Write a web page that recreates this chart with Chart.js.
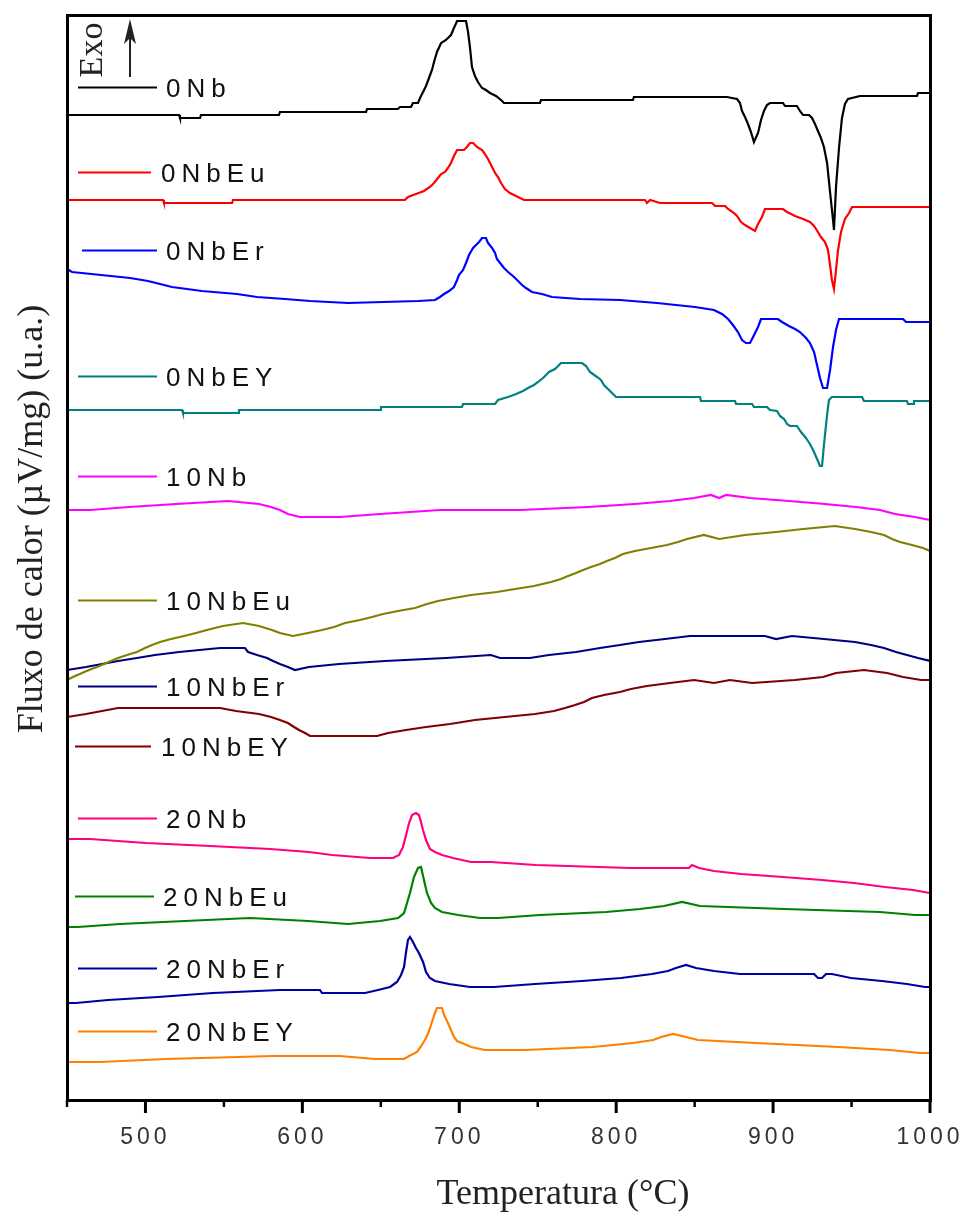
<!DOCTYPE html>
<html>
<head>
<meta charset="utf-8">
<script src="https://cdn.jsdelivr.net/npm/chart.js@4"></script>
<style>
    html, body { margin: 0; background: #fff; }
    canvas { display: block; }
</style>
</head>
<body>
<canvas id="graficoDTA" width="964" height="1213"></canvas>
<script>
// ==========================================
// DADOS: [temperatura (°C), fluxo de calor (u.a., com deslocamento)]
// ==========================================
const amostras = ['0Nb', '0NbEu', '0NbEr', '0NbEY', '10Nb', '10NbEu', '10NbEr', '10NbEY', '20Nb', '20NbEu', '20NbEr', '20NbEY'];

const s0Nb = [[450,985],[521.4,985],[522,982],[534.8,982],[535.4,985],[585.1,985],[585.7,988],[640.6,988],[641.2,991],[660.9,991],[662.2,993],[669.2,993],[670.5,997],[673.7,997],[675,1002],[676.9,1008],[678.8,1014],[680.7,1022],[682.6,1030],[683.9,1038],[685.8,1048],[688.4,1057],[691.5,1060],[694.7,1065],[696.6,1072],[698.6,1079],[704.3,1079],[705.6,1068],[706.8,1053],[708.1,1033],[710,1024],[711.9,1018],[714.5,1012],[717,1010],[719.6,1007],[723.4,1004],[726.6,1000],[728.5,997],[751.4,997],[752.1,1000],[810.7,1000],[811.3,1003],[870.6,1003],[877,1001],[878.9,997],[880.2,989],[882.1,983],[884,976],[885.9,968],[887.8,958],[890.4,967],[892.3,980],[894.2,989],[896.1,995],[898,997],[906.3,997],[907.6,994],[915.2,994],[917.1,989],[919.1,985],[922.9,985],[924.8,982],[926.7,976],[928.6,969],[930.5,962],[932.4,953],[934.4,937],[936.3,908],[938.2,880],[938.8,870],[940.1,913],[942,952],[943.9,982],[945.8,996],[947.7,1001],[955.4,1004],[991.7,1004],[992.4,1007],[1000,1007]];

const s0NbEu = [[450,900],[511.2,900],[511.8,897],[555.2,897],[555.8,900],[665.4,900],[667.3,903],[672.4,906],[677.5,909],[681.3,913],[683.9,917],[686.4,922],[688.4,926],[690.9,928],[692.8,932],[694.7,937],[696.6,944],[698.6,950],[703,950],[704.9,953],[706.8,957],[708.8,957],[711.3,953],[714.5,950],[716.4,946],[718.3,941],[720.9,933],[722.8,927],[724.7,923],[726.6,917],[729.1,911],[732.3,907],[737.4,903],[741.3,900],[818.4,900],[819.6,897],[821.6,900],[828,897],[861.1,897],[863,894],[869.4,894],[871.3,891],[875.1,887],[877,884],[879.6,878],[882.1,875],[885.3,872],[888.5,869],[890.4,876],[892.9,883],[894.8,891],[906.3,891],[908.9,888],[914,884],[919.1,881],[923.5,878],[926.1,874],[928.6,868],[930.5,863],[933.1,858],[935,850],[936.3,835],[937.5,820],[938.8,811],[940.1,830],[941.4,850],[943.3,868],[945.8,881],[948.4,887],[950.3,893],[1000,893]];

const s0NbEr = [[450,831],[453.2,828],[471.7,825],[490.2,822],[501.6,819],[509.3,816],[516.9,813],[536,809],[558.3,806],[571.1,803],[588.9,801],[604.9,799],[629.1,797],[673.7,799],[684.5,800],[687.7,803],[690.3,806],[693.5,809],[696.6,813],[698.6,820],[699.8,825],[702.4,830],[704.3,837],[706.2,845],[708.8,852],[710.7,855],[712.6,858],[714.5,862],[717,862],[718.3,857],[720.9,852],[722.8,847],[724,841],[726,837],[728.5,832],[731.1,828],[734.2,824],[736.2,821],[738.1,818],[740,815],[742.5,812],[746.3,808],[752.7,806],[759.1,803],[776.9,801],[802.4,800],[826,797],[850.2,793],[862.3,790],[867.4,786],[871.3,781],[874.4,775],[877.6,768],[880.2,760],[882.7,757],[885.3,757],[886.6,761],[888.5,767],[890.4,773],[892.3,781],[903.1,781],[905.7,778],[910.1,774],[914,771],[917.1,768],[921,762],[923.5,757],[926.1,748],[928,735],[929.9,722],[931.8,712],[934.4,712],[936.3,730],[938.2,753],[940.1,770],[942,781],[982.8,781],[984.7,778],[1000,778]];

const s0NbEY = [[450,690],[523.3,690],[523.9,687],[559,687],[559.6,690],[649.5,690],[650.1,693],[701.7,693],[702.4,696],[722.8,696],[724.7,700],[731.1,703],[736.2,706],[740.6,709],[743.8,712],[747.6,715],[750.2,718],[753.4,722],[757.2,728],[761,731],[763,734],[764.8,737],[778.2,737],[780.8,734],[783.3,728],[787.8,723],[790.3,720],[792.2,715],[795.4,710],[798,706],[799.9,703],[853.4,703],[854,699],[875.7,699],[876.4,696],[886.6,696],[887.8,693],[896.1,693],[898,690],[902.5,689],[904.4,684],[907,681],[908.9,676],[910.8,674],[915.2,674],[917.8,668],[920.9,662],[923.5,656],[926.1,648],[928,641],[929.9,634],[931.2,634],[932.4,655],[934.4,685],[935.6,700],[937.5,703],[956.7,703],[957.9,699],[985.3,699],[986,696],[989.2,696],[989.8,699],[1000,699]];

const s10Nb = [[450,590],[464.7,590],[489.5,593],[519.5,596],[552.6,599],[572.4,596],[580,593],[585.7,590],[590.8,586],[598.5,583],[624,583],[649.5,586],[687.7,590],[738.7,590],[782,593],[812,596],[834.3,599],[849.6,602],[860.4,605],[865.6,602],[870,605],[885.3,602],[910.1,599],[933.1,596],[952.8,593],[968.1,590],[977.7,586],[990.4,583],[1000,580]];

const s10NbEu = [[450,420],[453.8,423],[459.6,427],[464,430],[469.1,433],[482.5,442],[490.2,446],[494.6,448],[499.7,452],[504.2,455],[509.3,458],[516.3,461],[524.6,464],[532.2,467],[539.2,470],[549.4,474],[562.2,477],[572.4,474],[580.6,470],[585.7,467],[594,464],[603.6,467],[612.5,470],[620.2,473],[627.2,477],[636.7,480],[644.4,483],[651.4,486],[661,489],[671.8,492],[679.4,496],[686.4,499],[696.6,502],[707.5,505],[724,508],[735.5,511],[747.6,514],[758.5,518],[764.8,521],[769.3,524],[774.4,527],[778.9,530],[784,533],[789.7,536],[794.1,539],[799.2,542],[804.3,546],[812,549],[822.2,552],[832.4,555],[839.4,558],[845.1,561],[855.9,565],[865.6,561],[882.1,565],[901.9,568],[919.1,571],[939.4,574],[952.2,571],[962.4,568],[970.7,565],[975.8,561],[980.9,558],[988.5,555],[995.5,552],[1000,549]];

const s10NbEr = [[450,430],[462.1,433],[472.3,436],[482.5,439],[494.6,442],[506.1,445],[521.4,448],[547.5,452],[563.4,452],[565.4,448],[571.1,445],[577.5,442],[581.3,439],[585.7,436],[590.8,433],[595.3,430],[604.2,433],[623.3,436],[652.7,439],[691.5,442],[720.2,445],[725.9,442],[745,442],[757.2,445],[774.4,448],[789.7,452],[802.4,455],[814.5,458],[831.1,461],[847,464],[894.8,464],[901.9,461],[912,464],[932.4,461],[952.2,458],[962.4,455],[970.7,452],[978.3,448],[985.3,445],[992.3,442],[1000,439]];

const s10NbEY = [[450,383],[462.1,386],[472.3,389],[482.5,392],[547.5,392],[557.7,389],[572.4,386],[580,383],[585.7,380],[590.8,377],[594.7,373],[597.9,370],[601.7,367],[604.9,364],[647.6,364],[654.6,367],[666.1,370],[678.8,373],[694.1,376],[710,380],[729.1,383],[748.3,386],[760.4,389],[767.4,392],[773.8,395],[779.5,398],[784.6,402],[792.2,405],[802.4,408],[809.4,411],[819.6,414],[834.3,417],[849.6,420],[862.3,417],[872.5,420],[886.6,417],[913.9,420],[931.8,423],[940.1,427],[957.9,430],[972.6,427],[982.8,423],[994.3,420],[1000,420]];

const s20Nb = [[450,261],[464.7,261],[500.3,257],[541.1,254],[579.4,251],[604.2,248],[618.9,245],[643.1,242],[657.8,242],[661.6,245],[664.1,253],[666.1,265],[668,277],[669.9,285],[672.4,287],[674.3,285],[675.6,278],[676.9,270],[678.8,260],[681.3,251],[684.5,248],[689,245],[696,242],[707.5,238],[720.2,238],[748.9,235],[808.8,232],[846.4,232],[848.3,235],[852.8,232],[862.3,229],[879.6,226],[906.3,223],[931.2,220],[951.6,217],[971.3,213],[989.2,210],[1000,207]];

const s20NbEu = [[450,173],[457,173],[483.8,176],[525.2,179],[566.6,182],[603.6,179],[629.1,176],[649.5,179],[661,182],[664.8,187],[666.7,197],[668.6,207],[671.1,223],[673.7,232],[675.6,233],[677.5,220],[679.4,207],[682,197],[684.5,192],[689,188],[699.2,185],[713.2,182],[724.7,182],[751.4,185],[793.5,188],[815.2,191],[830.5,194],[842,198],[853.4,194],[907,191],[968.1,188],[990.4,185],[1000,185]];

const s20NbEr = [[450,97],[455.7,97],[476.1,100],[508,103],[543,107],[585.7,110],[611.2,110],[612.5,107],[640,107],[648.2,110],[655.9,113],[660.3,118],[662.9,125],[664.8,133],[666,147],[667.3,160],[668.6,163],[670.5,158],[672.4,152],[674.3,147],[676.9,138],[678.8,128],[681.3,122],[684.5,119],[693.5,116],[706.8,113],[722.1,113],[748.3,116],[778.2,119],[803.1,122],[822.8,126],[833,129],[838.1,132],[844.5,135],[850.9,132],[862.3,129],[878.9,126],[926.1,126],[928.6,122],[931.2,122],[933.7,126],[937.5,126],[949.6,122],[969.4,119],[985.3,116],[996.8,113],[1000,113]];

const s20NbEY = [[450,38],[471,38],[513.1,41],[581.3,44],[624,44],[646.3,41],[664.8,41],[668,44],[673.1,48],[676.2,55],[678.8,62],[680.7,69],[682.6,78],[684.5,87],[685.8,92],[689,92],[690.3,85],[692.2,79],[694.7,70],[696.6,63],[698.6,59],[701.7,57],[707.5,53],[716.4,50],[741.9,50],[785.2,53],[810.7,57],[823.5,60],[828.6,63],[836.2,66],[844.5,63],[852.1,60],[889.1,57],[941.4,53],[974.5,50],[993.6,47],[1000,47]];

const ticksMaiores = [500, 600, 700, 800, 900, 1000];
const ticksMenores = [450, 550, 650, 750, 850, 950];

const curvas = [s0Nb, s0NbEu, s0NbEr, s0NbEY, s10Nb, s10NbEu, s10NbEr, s10NbEY, s20Nb, s20NbEu, s20NbEr, s20NbEY];
const cores = ['#000000', '#ff0000', '#0000ff', '#008080', '#ff00ff', '#808000', '#000080', '#800000', '#ff0080', '#008000', '#0000a0', '#ff8000'];

// posição dos rótulos (valor do eixo y, deslocamentos em px a partir da borda esquerda)
const rotulos = [
    { y: 1013, x0: 11, x1: 90, xt: 99 },
    { y: 928,  x0: 11, x1: 84, xt: 94 },
    { y: 850,  x0: 15, x1: 90, xt: 99 },
    { y: 724,  x0: 11, x1: 90, xt: 99 },
    { y: 624,  x0: 11, x1: 90, xt: 99 },
    { y: 500,  x0: 11, x1: 90, xt: 99 },
    { y: 414,  x0: 11, x1: 90, xt: 99 },
    { y: 354,  x0: 8,  x1: 84, xt: 94 },
    { y: 282,  x0: 11, x1: 90, xt: 99 },
    { y: 204,  x0: 8,  x1: 87, xt: 96 },
    { y: 132,  x0: 11, x1: 90, xt: 99 },
    { y: 69,   x0: 11, x1: 90, xt: 99 }
];

// ==========================================
// MÓDULO: MOLDURA, EIXOS E RÓTULOS
// ==========================================
const moldura = {
    id: 'moldura',
    afterDatasetsDraw(chart) {
        const { ctx, chartArea: a, scales: { x, y } } = chart;
        ctx.save();

        // rótulos das curvas
        ctx.font = '26px "Liberation Sans", Arial, sans-serif';
        ctx.letterSpacing = '6px';
        ctx.textBaseline = 'alphabetic';
        ctx.textAlign = 'left';
        rotulos.forEach((r, i) => {
            const py = Math.round(y.getPixelForValue(r.y)) + 0.5;
            ctx.strokeStyle = cores[i];
            ctx.lineWidth = 2.2;
            ctx.beginPath();
            ctx.moveTo(a.left + r.x0, py);
            ctx.lineTo(a.left + r.x1, py);
            ctx.stroke();
            ctx.fillStyle = '#111';
            ctx.fillText(amostras[i], a.left + r.xt, py + 9.5);
        });

        // borda
        ctx.letterSpacing = '0px';
        ctx.strokeStyle = '#000';
        ctx.lineWidth = 3;
        ctx.strokeRect(a.left + 0.5, a.top + 0.5, a.width, a.height);

        // marcas do eixo x
        ctx.lineWidth = 3;
        ticksMaiores.forEach(v => {
            const px = x.getPixelForValue(v);
            ctx.beginPath();
            ctx.moveTo(px, a.bottom);
            ctx.lineTo(px, a.bottom + 13);
            ctx.stroke();
        });
        ctx.lineWidth = 2.5;
        ticksMenores.forEach(v => {
            const px = x.getPixelForValue(v);
            ctx.beginPath();
            ctx.moveTo(px, a.bottom);
            ctx.lineTo(px, a.bottom + 7);
            ctx.stroke();
        });

        // números do eixo x
        ctx.font = '23px "Liberation Sans", Arial, sans-serif';
        ctx.letterSpacing = '4px';
        ctx.fillStyle = '#333';
        ticksMaiores.forEach(v => {
            const txt = String(v);
            const w = ctx.measureText(txt).width - 4;
            ctx.fillText(txt, x.getPixelForValue(v) - w / 2 - 2, a.bottom + 44);
        });
        ctx.letterSpacing = '0px';

        // títulos
        ctx.font = '36px "Liberation Serif", "Times New Roman", serif';
        ctx.fillStyle = '#222';
        ctx.textAlign = 'center';
        ctx.fillText('Temperatura (°C)', 563, a.bottom + 104);

        ctx.save();
        ctx.translate(42, 519);
        ctx.rotate(-Math.PI / 2);
        ctx.fillText('Fluxo de calor (µV/mg) (u.a.)', 0, 0);
        ctx.restore();

        // Exo + seta
        ctx.save();
        ctx.translate(102, 50);
        ctx.rotate(-Math.PI / 2);
        ctx.font = '34px "Liberation Serif", "Times New Roman", serif';
        ctx.fillText('Exo', 0, 0);
        ctx.restore();

        ctx.strokeStyle = '#222';
        ctx.lineWidth = 2;
        ctx.beginPath();
        ctx.moveTo(130, 77);
        ctx.lineTo(130, 24);
        ctx.stroke();
        ctx.fillStyle = '#222';
        ctx.beginPath();
        ctx.moveTo(130, 19);
        ctx.lineTo(136, 44);
        ctx.lineTo(130, 38);
        ctx.lineTo(124, 44);
        ctx.closePath();
        ctx.fill();

        ctx.restore();
    }
};

// ==========================================
// MÓDULO: GRÁFICO
// ==========================================
const datasets = curvas.map((c, i) => ({
    label: amostras[i],
    data: c.map(p => ({ x: p[0], y: p[1] })),
    borderColor: cores[i],
    backgroundColor: cores[i],
    borderWidth: 2.2,
    pointRadius: 0,
    tension: 0,
    fill: false
}));

new Chart(document.getElementById('graficoDTA'), {
    type: 'line',
    data: { datasets },
    options: {
        responsive: false,
        animation: false,
        events: [],
        layout: { padding: { left: 67, right: 34, top: 15, bottom: 113 } },
        scales: {
            x: { type: 'linear', min: 450, max: 1000, display: false },
            y: { type: 'linear', min: 0, max: 1085, display: false }
        },
        plugins: { legend: { display: false }, tooltip: { enabled: false } }
    },
    plugins: [moldura]
});
</script>
</body>
</html>
